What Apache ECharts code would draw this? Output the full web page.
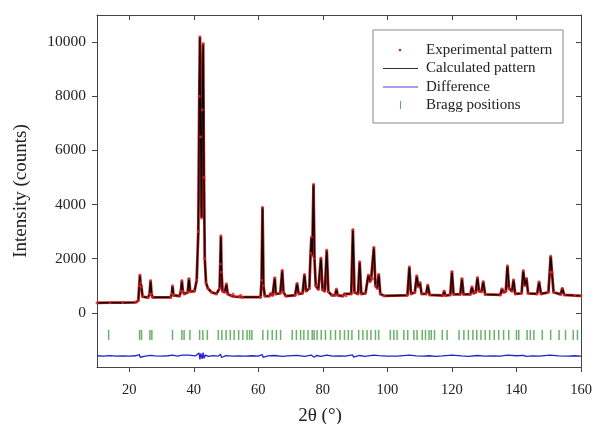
<!DOCTYPE html>
<html>
<head>
<meta charset="utf-8">
<script src="https://cdn.jsdelivr.net/npm/echarts@6/dist/echarts.min.js"></script>
<style>
body { margin: 0; background: #fff; }
#main { width: 595px; height: 424px; }
</style>
</head>
<body>
<div id="main"></div>
<script>
var pattern = [
    [10, 370], [14, 375], [18, 380], [22, 390], [22.8, 450],
    [23.1, 1000], [23.3, 1400], [23.5, 1100], [23.8, 950], [24.1, 600],
    [25.8, 560], [26.3, 700], [26.6, 1190], [26.9, 700], [27.3, 570],
    [32.8, 570], [33.2, 700], [33.4, 1000], [33.7, 650],
    [35.6, 620], [36.0, 800], [36.3, 1190], [36.6, 800], [37.0, 700],
    [38.1, 750], [38.5, 1270], [38.9, 780],
    [40.2, 800], [40.9, 1200], [41.4, 3000], [41.7, 8000], [41.9, 10200], [42.15, 6500],
    [42.4, 3500], [42.6, 7500], [42.9, 9950], [43.15, 5000], [43.4, 2000], [43.8, 1100],
    [44.4, 900], [45.5, 760], [47.0, 700],
    [48.0, 900], [48.2, 1800], [48.4, 2850], [48.6, 1500], [48.9, 800],
    [49.6, 760], [50.1, 1070], [50.5, 700],
    [51.6, 630], [52.2, 700], [52.7, 600], [54.0, 590], [54.5, 650], [55.0, 580], [60.7, 580],
    [61.0, 1200], [61.3, 3900], [61.6, 1000], [62.0, 620],
    [63.4, 620], [63.9, 720], [64.4, 640], [64.8, 700], [65.1, 1300], [65.4, 700],
    [66.8, 720], [67.4, 1570], [67.8, 760], [68.5, 620],
    [71.4, 650], [72.0, 1090], [72.5, 700], [73.7, 720], [74.3, 1420], [74.8, 800],
    [75.8, 900], [76.2, 2200], [76.45, 2800], [76.7, 2100], [77.1, 4750], [77.4, 2000], [77.8, 1000],
    [78.6, 860], [79.4, 2030], [79.9, 850], [80.6, 800], [81.2, 2320], [81.7, 780],
    [82.8, 650], [83.8, 650], [84.2, 880], [84.6, 650], [86.2, 620], [86.7, 700], [87.2, 630],
    [88.8, 700], [89.3, 3080], [89.8, 750], [90.9, 700], [91.4, 1890], [91.9, 700],
    [93.2, 720], [94.1, 1400], [94.6, 1150], [95.0, 1300], [95.4, 1250], [95.8, 2420], [96.3, 1000],
    [96.9, 900], [97.3, 1430], [97.8, 700], [99.0, 630],
    [106.2, 650], [106.8, 1700], [107.3, 700], [108.5, 750], [109.1, 1370], [109.6, 950],
    [110.1, 1120], [110.6, 700], [112.0, 700], [112.5, 1030], [113.1, 660],
    [117.2, 640], [117.6, 810], [118.0, 640], [119.5, 660], [120.0, 1530], [120.5, 680],
    [122.6, 680], [123.1, 1270], [123.6, 680], [125.7, 680], [126.2, 960], [126.7, 720],
    [127.4, 760], [127.9, 1310], [128.4, 800], [129.2, 780], [129.7, 1160], [130.3, 680],
    [135.0, 660], [135.5, 890], [136.0, 750], [136.7, 800], [137.2, 1740], [137.7, 900],
    [138.6, 800], [139.1, 1220], [139.6, 700], [141.6, 720], [142.1, 1560], [142.6, 1000],
    [143.1, 1280], [143.6, 720], [146.4, 700], [147.0, 1150], [147.6, 700],
    [149.9, 760], [150.3, 1500], [150.6, 2100], [151.0, 1500], [151.5, 760],
    [153.7, 680], [154.2, 910], [154.8, 660], [158.0, 640], [160.0, 630]
];

// Bragg reflection positions (2θ)
var braggPos = [13.6, 23.2, 23.8, 26.4, 27.0, 33.4, 36.3, 37.0, 38.8, 41.8, 42.8, 44.2,
    47.6, 48.7, 50.0, 51.3, 52.5, 53.9, 55.2, 56.5, 57.3, 58.0, 61.4, 62.9, 64.3, 65.6, 66.9,
    70.5, 71.8, 73.1, 74.1, 75.4, 76.7, 77.3, 78.2, 79.5, 80.8, 82.4, 83.9, 85.3, 86.7,
    87.9, 89.0, 91.1, 92.4, 93.7, 94.9, 96.3, 97.3, 100.9, 102.0, 103.0, 105.1, 106.3,
    108.2, 109.2, 110.8, 111.8, 112.9, 113.6, 114.6, 117.0, 118.5, 122.2, 123.7, 125.1,
    126.5, 127.7, 129.0, 130.3, 131.7, 133.1, 134.5, 136.0, 137.6, 140.0, 140.7, 143.3,
    144.3, 145.4, 148.0, 150.6, 153.2, 155.2, 157.6, 158.9];
var braggLevel = -815;

// difference curve (obs - calc, offset)
var difference = [
    [10, -1585], [12, -1595], [14, -1580], [16, -1600], [18, -1588], [20, -1598], [22, -1585],
    [23.1, -1540], [23.4, -1640], [23.8, -1570], [25, -1600], [26.5, -1570], [26.8, -1620],
    [28, -1590], [30, -1600], [32, -1585], [33.4, -1560], [33.7, -1610], [35, -1595],
    [36.3, -1565], [36.6, -1620], [38.5, -1560], [38.8, -1625], [40.5, -1590],
    [41.6, -1480], [41.9, -1720], [42.2, -1500], [42.6, -1700], [42.9, -1470], [43.2, -1680],
    [43.6, -1560], [44.5, -1610], [46, -1580], [47.5, -1600], [48.3, -1530], [48.6, -1650],
    [50, -1580], [52, -1600], [54, -1590], [56, -1600], [58, -1585], [60, -1598],
    [61.2, -1540], [61.5, -1640], [63, -1590], [65, -1575], [67.4, -1610], [69, -1590],
    [72, -1570], [74.3, -1610], [76.4, -1560], [77.0, -1530], [77.3, -1640], [78, -1575],
    [79.4, -1610], [81.2, -1565], [83, -1600], [85, -1590], [87, -1600], [89.2, -1550],
    [89.5, -1635], [91.4, -1575], [93, -1605], [95.8, -1560], [96.2, -1625], [97.3, -1580],
    [100, -1600], [103, -1595], [106.8, -1565], [107.2, -1625], [109, -1590], [111, -1600],
    [113, -1585], [115, -1605], [117, -1590], [120, -1560], [120.3, -1630], [123, -1590],
    [125, -1605], [128, -1575], [130, -1600], [133, -1590], [135, -1598], [137.2, -1560],
    [137.6, -1620], [140, -1585], [142.1, -1570], [143, -1610], [145, -1590], [147, -1600],
    [150.5, -1560], [150.9, -1630], [153, -1590], [156, -1600], [158, -1585], [160, -1595]
];

var xTicks = [20, 40, 60, 80, 100, 120, 140, 160];
var yTicks = [0, 2000, 4000, 6000, 8000, 10000];

var font = '"Liberation Serif", "DejaVu Serif", serif';
var axisColor = '#444';

var myChart = echarts.init(document.getElementById('main'));

var braggData = braggPos.map(function (p) { return [p, braggLevel]; });

var option = {
    animation: false,
    backgroundColor: '#fff',
    grid: { left: 97, right: 14, top: 15, bottom: 57, containLabel: false, outerBoundsMode: 'none' },
    xAxis: [
        {
            type: 'value', min: 10, max: 160, position: 'bottom',
            name: '2θ (°)', nameLocation: 'middle', nameGap: 40,
            nameTextStyle: { fontFamily: font, fontSize: 19, color: '#222', padding: [0, 38, 0, 0] },
            axisLine: { onZero: false, lineStyle: { color: axisColor } },
            axisTick: { customValues: xTicks, length: 5, lineStyle: { color: axisColor } },
            axisLabel: { customValues: xTicks, margin: 16, fontFamily: font, fontSize: 14.5, color: '#222' },
            splitLine: { show: false }
        },
        {
            type: 'value', min: 10, max: 160, position: 'top',
            axisLine: { onZero: false, lineStyle: { color: axisColor } },
            axisTick: { customValues: xTicks, inside: true, length: 5, lineStyle: { color: axisColor } },
            axisLabel: { show: false },
            splitLine: { show: false }
        }
    ],
    yAxis: [
        {
            type: 'value', min: -2000, max: 11000, position: 'left',
            name: 'Intensity (counts)', nameLocation: 'middle', nameGap: 66,
            nameTextStyle: { fontFamily: font, fontSize: 19, color: '#222' },
            axisLine: { show: true, onZero: false, lineStyle: { color: axisColor } },
            axisTick: { show: true, customValues: yTicks, length: 5, lineStyle: { color: axisColor } },
            axisLabel: {
                customValues: yTicks, margin: 11, fontFamily: font, fontSize: 15.5, color: '#222',
                formatter: function (v) { return String(v); }
            },
            splitLine: { show: false }
        },
        {
            type: 'value', min: -2000, max: 11000, position: 'right',
            axisLine: { show: true, onZero: false, lineStyle: { color: axisColor } },
            axisTick: { show: true, customValues: yTicks, inside: true, length: 5, lineStyle: { color: axisColor } },
            axisLabel: { show: false },
            splitLine: { show: false }
        }
    ],
    series: [
        {
            name: 'Experimental pattern',
            type: 'line',
            data: pattern,
            showSymbol: false,
            lineStyle: { color: '#b51818', width: 2.8 },
            z: 1,
            silent: true
        },
        {
            name: 'Calculated pattern',
            type: 'line',
            data: pattern,
            showSymbol: false,
            lineStyle: { color: '#000', width: 1.2 },
            z: 2,
            silent: true
        },
        {
            name: 'Experimental points',
            type: 'scatter',
            data: pattern,
            symbolSize: 3,
            itemStyle: { color: '#d42a2a' },
            z: 3,
            silent: true
        },
        {
            name: 'Bragg positions',
            type: 'scatter',
            data: braggData,
            symbol: 'rect',
            symbolSize: [1.5, 10],
            itemStyle: { color: '#449c44' },
            z: 2,
            silent: true
        },
        {
            name: 'Difference',
            type: 'line',
            data: difference,
            showSymbol: false,
            lineStyle: { color: '#2222cc', width: 1.3 },
            z: 2,
            silent: true
        }
    ],
    graphic: [
        { type: 'rect', shape: { x: 373, y: 30, width: 190, height: 93 },
          style: { fill: '#fff', stroke: '#888', lineWidth: 1 }, z: 10 },
        { type: 'circle', shape: { cx: 400, cy: 50, r: 1.3 }, style: { fill: '#d42a2a' }, z: 11 },
        { type: 'line', shape: { x1: 383, y1: 68.5, x2: 418, y2: 68.5 }, style: { stroke: '#333', lineWidth: 1 }, z: 11 },
        { type: 'line', shape: { x1: 383, y1: 87, x2: 418, y2: 87 }, style: { stroke: '#4444cc', lineWidth: 1 }, z: 11 },
        { type: 'line', shape: { x1: 400.5, y1: 101, x2: 400.5, y2: 109 }, style: { stroke: '#5aaa5a', lineWidth: 1 }, z: 11 },
        { type: 'text', x: 426, y: 50, style: { text: 'Experimental pattern', font: '15px ' + font, fill: '#222', verticalAlign: 'middle' }, z: 11 },
        { type: 'text', x: 426, y: 68.5, style: { text: 'Calculated pattern', font: '15px ' + font, fill: '#222', verticalAlign: 'middle' }, z: 11 },
        { type: 'text', x: 426, y: 87, style: { text: 'Difference', font: '15px ' + font, fill: '#222', verticalAlign: 'middle' }, z: 11 },
        { type: 'text', x: 426, y: 105, style: { text: 'Bragg positions', font: '15px ' + font, fill: '#222', verticalAlign: 'middle' }, z: 11 }
    ]
};

myChart.setOption(option);
</script>
</body>
</html>
